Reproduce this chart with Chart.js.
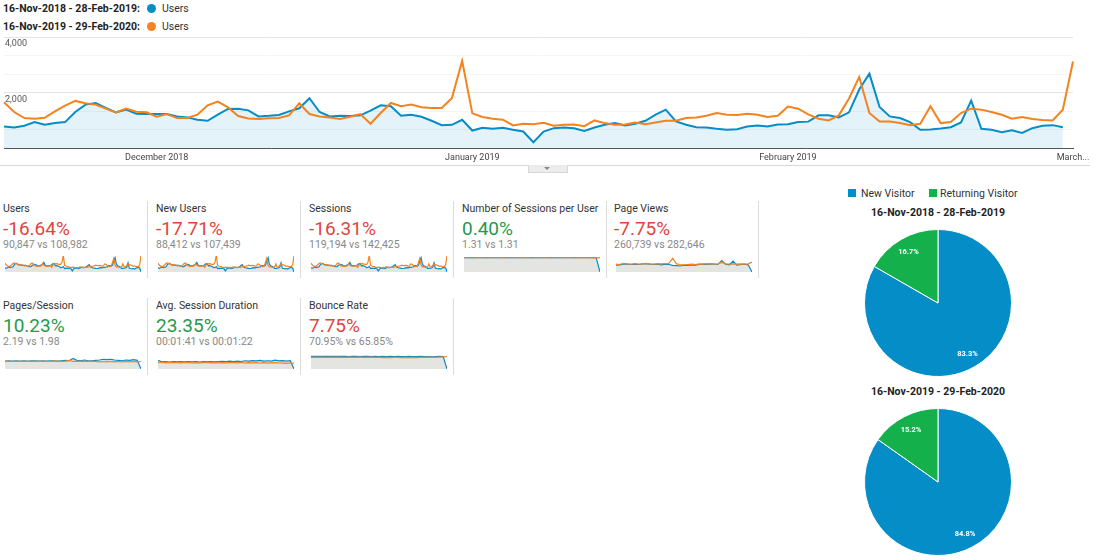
<!DOCTYPE html>
<html>
<head>
<meta charset="utf-8">
<script src="https://cdn.jsdelivr.net/npm/chart.js@4.4.1/dist/chart.umd.min.js"></script>
<style>
  body { margin: 0; width: 1099px; height: 560px; background: #fff; font-family: Roboto, Arial, sans-serif; position: relative; overflow: hidden; }
  .abs { position: absolute; white-space: nowrap; }
  .legend-date { font-size: 10.5px; font-weight: bold; color: #222; line-height: 11px; }
  .legend-dot { width: 9px; height: 9px; border-radius: 50%; }
  .legend-txt { font-size: 10.5px; color: #333; line-height: 11px; }
  .t-title { font-size: 10.5px; color: #333; line-height: 11px; }
  .t-big { font-size: 19px; line-height: 19px; }
  .t-sub { font-size: 10.5px; color: #888; line-height: 11px; }
  .sep { width: 1px; background: #dcdcdc; }
  .pie-title { font-size: 10.5px; font-weight: bold; color: #222; line-height: 11px; text-align: center; width: 200px; }
  .sq { width: 8px; height: 8px; }
</style>
</head>
<body>

<!-- top legend -->
<div class="abs legend-date" style="left:3px;top:3px">16-Nov-2018 - 28-Feb-2019:</div>
<div class="abs legend-dot" style="left:147px;top:4px;background:#058dc7"></div>
<div class="abs legend-txt" style="left:162px;top:3px">Users</div>
<div class="abs legend-date" style="left:3px;top:21px">16-Nov-2019 - 29-Feb-2020:</div>
<div class="abs legend-dot" style="left:147px;top:22px;background:#f4821f"></div>
<div class="abs legend-txt" style="left:162px;top:21px">Users</div>

<canvas id="main" width="1099" height="140" class="abs" style="left:0;top:30px"></canvas>

<div class="abs" style="left:0;top:165px;width:1090px;height:1px;background:#d6d6d6"></div>
<div class="abs" style="left:528px;top:165px;width:38px;height:7px;background:#ececec;border:1px solid #d8d8d8;border-top:none"></div>
<div class="abs" style="left:544px;top:167px;width:0;height:0;border-left:3px solid transparent;border-right:3px solid transparent;border-top:3px solid #888"></div>

<div id="tiles"></div>

<!-- pie legend -->
<div class="abs sq" style="left:848px;top:189px;background:#058dc7"></div>
<div class="abs legend-txt" style="left:861px;top:188px">New Visitor</div>
<div class="abs sq" style="left:929px;top:189px;background:#13b04b"></div>
<div class="abs legend-txt" style="left:940px;top:188px">Returning Visitor</div>

<div class="abs pie-title" style="left:838px;top:207px">16-Nov-2018 - 28-Feb-2019</div>
<canvas id="pie1" width="148" height="148" class="abs" style="left:864px;top:229px"></canvas>
<div class="abs pie-title" style="left:838px;top:386px">16-Nov-2019 - 29-Feb-2020</div>
<canvas id="pie2" width="148" height="148" class="abs" style="left:864px;top:408px"></canvas>

<script>
// Users per day, 16 Nov - 28 Feb (previous period has 105 days, current 106)
const usersPrev = [
  776, 740, 800, 933, 836, 897, 933, 1297, 1563, 1624,
  1442, 1285, 1382, 1236, 1224, 1224, 1224, 1139, 1103, 1018,
  982, 1200, 1406, 1418, 1357, 1139, 1160, 1190, 1320, 1430,
  1794, 1297, 1139, 1164, 1151, 1176, 1345, 1539, 1503, 1164,
  1200, 1127, 982, 824, 836, 1018, 630, 727, 691, 727,
  654, 594, 206, 590, 715, 739, 715, 618, 739, 836,
  897, 812, 873, 982, 1200, 1382, 957, 836, 751, 739,
  691, 654, 679, 776, 812, 776, 848, 860, 933, 950,
  1176, 1176, 1103, 1285, 2109, 2679, 1479, 1139, 1079, 933,
  654, 667, 703, 751, 921, 1709, 691, 654, 570, 642,
  545, 715, 800, 824, 751
];
const usersCurr = [
  1648, 1297, 1079, 1054, 1091, 1321, 1527, 1697, 1612, 1563,
  1418, 1285, 1418, 1309, 1285, 1127, 1224, 1079, 1079, 1200,
  1539, 1673, 1467, 1151, 1067, 1042, 1070, 1079, 1176, 1612,
  1224, 1139, 1103, 1042, 1127, 1224, 873, 1260, 1624, 1503,
  1563, 1467, 1442, 1442, 1806, 3139, 1248, 1115, 1054, 1018,
  812, 873, 860, 910, 800, 836, 848, 788, 994, 897,
  836, 848, 921, 860, 921, 982, 982, 1079, 1103, 1164,
  1260, 1200, 1188, 1236, 1200, 1115, 1164, 1491, 1418, 1212,
  1054, 994, 1176, 1782, 2557, 1260, 957, 957, 897, 824,
  873, 1503, 897, 933, 1260, 1418, 1382, 1297, 1200, 1054,
  1115, 1042, 1006, 994, 1382, 3115
];
const xTickLabels = ['December 2018', 'January 2019', 'February 2019', 'March...'];
const xTickIndex = [15, 46, 77, 105];
const yTickLabels = [2000, 4000];

// summary tiles
const metricNames = ['Users', 'New Users', 'Sessions', 'Number of Sessions per User', 'Page Views',
  'Pages/Session', 'Avg. Session Duration', 'Bounce Rate'];
const metricChange = ['-16.64%', '-17.71%', '-16.31%', '0.40%', '-7.75%', '10.23%', '23.35%', '7.75%'];
const metricGood = [false, false, false, true, false, true, true, false];
const metricCompare = ['90,847 vs 108,982', '88,412 vs 107,439', '119,194 vs 142,425', '1.31 vs 1.31',
  '260,739 vs 282,646', '2.19 vs 1.98', '00:01:41 vs 00:01:22', '70.95% vs 65.85%'];

// sparklines (users-like tiles share the daily users shape; the old period drops to 0 on the extra day)
const usersPrevSpark = [...usersPrev, 0];
const pageViewsPrev = [2300, 2400, 2700, 2600, 2500, 2600, 2500, 2700, 2800, 2600, 2500, 2600, 2400, 2600, 2500, 2200,
  2100, 2000, 2300, 2200, 2400, 2300, 2500, 2600, 2500, 2700, 2600, 2500, 3800, 2600, 2400, 3600, 2300, 2500, 2600, 2400, 0];
const pageViewsCurr = [2600, 2500, 2900, 2700, 2600, 2800, 2600, 2700, 2900, 2700, 2600, 2800, 2700, 2800, 2900, 4600,
  2700, 2500, 2400, 2500, 2600, 2500, 2700, 2600, 2800, 2700, 2600, 2700, 3200, 2700, 2600, 2700, 2600, 2700, 2600, 2700, 3300];
const perUserPrev = [1.31, 1.31, 1.32, 1.31, 1.31, 1.31, 1.32, 1.31, 1.31, 1.31, 1.31, 1.32, 1.31, 1.31, 1.31, 1.31,
  1.31, 1.31, 1.32, 1.31, 1.31, 1.31, 1.31, 1.32, 1.31, 1.31, 1.31, 1.31, 1.31, 1.32, 1.31, 1.31, 1.31, 1.31, 1.31, 1.31, 0];
const perUserCurr = [1.31, 1.31, 1.31, 1.31, 1.32, 1.31, 1.31, 1.31, 1.31, 1.31, 1.32, 1.31, 1.31, 1.31, 1.31, 1.31,
  1.32, 1.31, 1.31, 1.31, 1.31, 1.31, 1.32, 1.31, 1.31, 1.31, 1.31, 1.31, 1.32, 1.31, 1.31, 1.31, 1.31, 1.31, 1.30, 1.30, 1.32];
const pagesPrev = [2.1, 2.2, 2.1, 2.2, 2.1, 2.2, 2.1, 2.2, 2.2, 2.1, 2.2, 2.1, 2.2, 2.2, 2.1, 2.2, 2.3, 2.2, 2.8, 2.3,
  2.2, 2.4, 2.2, 2.2, 2.3, 2.4, 2.6, 2.5, 2.6, 2.4, 2.3, 2.2, 2.4, 2.3, 2.5, 2.3, 0];
const pagesCurr = [2.0, 2.1, 2.0, 2.1, 2.0, 2.1, 2.0, 2.1, 2.0, 2.1, 2.0, 2.1, 2.0, 2.1, 2.1, 2.0, 2.1, 2.3, 2.0, 2.1,
  2.0, 2.1, 2.0, 2.1, 2.0, 1.9, 2.0, 1.9, 2.0, 1.9, 2.0, 1.9, 2.0, 1.9, 2.0, 1.9, 2.0];
const durationPrev = [115, 95, 100, 92, 98, 95, 100, 94, 97, 95, 100, 93, 98, 96, 100, 95, 98, 102, 100, 104,
  98, 106, 100, 110, 104, 112, 108, 115, 104, 110, 106, 118, 108, 112, 104, 110, 0];
const durationCurr = [85, 90, 82, 88, 84, 86, 82, 88, 84, 80, 86, 82, 84, 88, 82, 86, 80, 84, 82, 86,
  84, 82, 88, 80, 84, 82, 86, 80, 84, 78, 82, 86, 80, 78, 76, 80, 78];
const bouncePrev = [72, 72, 71, 72, 71, 72, 71, 71, 72, 71, 70, 71, 71, 70, 71, 72, 70, 71, 70, 71,
  70, 71, 70, 71, 70, 70, 71, 70, 70, 71, 70, 70, 69, 70, 71, 70, 0];
const bounceCurr = [66, 67, 66, 67, 66, 67, 66, 67, 66, 66, 67, 66, 66, 67, 66, 66, 67, 66, 66, 65,
  66, 65, 66, 66, 65, 66, 65, 66, 65, 66, 66, 67, 66, 66, 68, 68, 72];

// visitor type pies
const pieLabels = ['New Visitor', 'Returning Visitor'];
const piePrev = [83.3, 16.7];
const pieCurr = [84.8, 15.2];

const BLUE = '#058dc7';
const ORANGE = '#f4821f';
const GREEN = '#13b04b';
Chart.defaults.font.family = 'Roboto, Arial, sans-serif';

// y labels sit just under their grid line, inside the plot
const yLabels = {
  id: 'yLabels',
  afterDraw(chart) {
    const ctx = chart.ctx;
    const y = chart.scales.y;
    ctx.save();
    ctx.font = '9px Roboto, Arial, sans-serif';
    ctx.fillStyle = '#555';
    ctx.textBaseline = 'middle';
    yTickLabels.forEach(v => ctx.fillText(v.toLocaleString('en-US'), 5, y.getPixelForValue(v) + 7));
    ctx.restore();
  }
};

new Chart(document.getElementById('main'), {
  type: 'line',
  data: {
    labels: usersCurr.map((v, i) => i),
    datasets: [
      { data: usersCurr, borderColor: ORANGE, borderWidth: 2, pointRadius: 0, fill: false, order: 0 },
      { data: usersPrev, borderColor: BLUE, backgroundColor: 'rgba(5,141,199,0.11)', borderWidth: 2,
        pointRadius: 0, fill: 'origin', order: 1 }
    ]
  },
  options: {
    responsive: false,
    animation: false,
    events: [],
    layout: { padding: { left: 3, right: 26, top: 7, bottom: 0 } },
    plugins: { legend: { display: false }, tooltip: { enabled: false } },
    scales: {
      x: {
        grid: { display: false, drawTicks: false },
        border: { display: true, color: '#555', width: 1 },
        ticks: {
          autoSkip: false, maxRotation: 0, padding: 4, color: '#444', font: { size: 9 },
          callback: (v, i) => { const k = xTickIndex.indexOf(i); return k < 0 ? '' : xTickLabels[k]; }
        },
        afterFit(s) { s.height = 22; }
      },
      y: {
        min: 0, max: 4000,
        afterBuildTicks(s) { s.ticks = [0, 1, 2, 3, 4, 5, 6].map(k => ({ value: k * 4000 / 6 })); },
        grid: { drawTicks: false, color: c => (Math.abs(c.tick.value % 2000) < 1 ? '#e4e4e4' : '#f4f4f4') },
        border: { display: false },
        ticks: { display: false },
        afterFit(s) { s.width = 0; }
      }
    }
  },
  plugins: [yLabels]
});

// tiles
const sparkPrev = [usersPrevSpark, usersPrevSpark, usersPrevSpark, perUserPrev, pageViewsPrev, pagesPrev, durationPrev, bouncePrev];
const sparkCurr = [usersCurr, usersCurr, usersCurr, perUserCurr, pageViewsCurr, pagesCurr, durationCurr, bounceCurr];
const sparkMax = [2800, 2800, 2800, 1.38, 5000, 4, 200, 85];
const colX = [3, 156, 309, 462, 614];
const rowY = [201, 298];
const tiles = document.getElementById('tiles');

metricNames.forEach((name, i) => {
  const row = i < 5 ? 0 : 1;
  const col = i < 5 ? i : i - 5;
  const x = colX[col];
  const top = rowY[row];
  const html = `
    <div class="abs t-title" style="left:${x}px;top:${top + 2}px">${name}</div>
    <div class="abs t-big" style="left:${x}px;top:${top + 18}px;color:${metricGood[i] ? '#1f9a4c' : '#e4443c'}">${metricChange[i]}</div>
    <div class="abs t-sub" style="left:${x}px;top:${top + 38}px">${metricCompare[i]}</div>
    <canvas id="spark${i}" width="136" height="16" class="abs" style="left:${x + 2}px;top:${top + 55}px"></canvas>
    <div class="abs sep" style="left:${x + 144}px;top:${top}px;height:77px"></div>`;
  tiles.insertAdjacentHTML('beforeend', html);
});

metricNames.forEach((name, i) => {
  const n = Math.max(sparkPrev[i].length, sparkCurr[i].length);
  new Chart(document.getElementById('spark' + i), {
    type: 'line',
    data: {
      labels: Array.from({ length: n }, (v, k) => k),
      datasets: [
        { data: sparkCurr[i], borderColor: ORANGE, borderWidth: 1.2, pointRadius: 0, fill: false, order: 0, clip: false },
        { data: sparkPrev[i], borderColor: BLUE, backgroundColor: '#e4e4e1', borderWidth: 1.2, pointRadius: 0, fill: 'origin', order: 1, clip: false }
      ]
    },
    options: {
      responsive: false, animation: false, events: [],
      layout: { padding: { top: 1, bottom: 0, left: 0, right: 0 } },
      plugins: { legend: { display: false }, tooltip: { enabled: false } },
      scales: { x: { display: false }, y: { display: false, min: 0, max: sparkMax[i] } }
    }
  });
});

// pies with percentage labels inside the slices
const sliceLabels = {
  id: 'sliceLabels',
  afterDatasetsDraw(chart) {
    const ctx = chart.ctx;
    const vals = chart.data.datasets[0].data;
    ctx.save();
    ctx.font = 'bold 7.5px Roboto, Arial, sans-serif';
    ctx.fillStyle = '#fff';
    ctx.textAlign = 'center';
    ctx.textBaseline = 'middle';
    chart.getDatasetMeta(0).data.forEach((arc, i) => {
      const p = arc.getProps(['x', 'y', 'startAngle', 'endAngle', 'outerRadius']);
      const a = (p.startAngle + p.endAngle) / 2;
      const r = p.outerRadius * 0.8;
      ctx.fillText(vals[i].toFixed(1) + '%', p.x + Math.cos(a) * r, p.y + Math.sin(a) * r);
    });
    ctx.restore();
  }
};

function makePie(id, values) {
  new Chart(document.getElementById(id), {
    type: 'pie',
    data: {
      labels: pieLabels,
      datasets: [{ data: values, backgroundColor: [BLUE, GREEN], borderColor: '#fff', borderWidth: 1 }]
    },
    options: {
      responsive: false, animation: false, events: [],
      layout: { padding: 0 },
      plugins: { legend: { display: false }, tooltip: { enabled: false } }
    },
    plugins: [sliceLabels]
  });
}
makePie('pie1', piePrev);
makePie('pie2', pieCurr);
</script>
</body>
</html>
